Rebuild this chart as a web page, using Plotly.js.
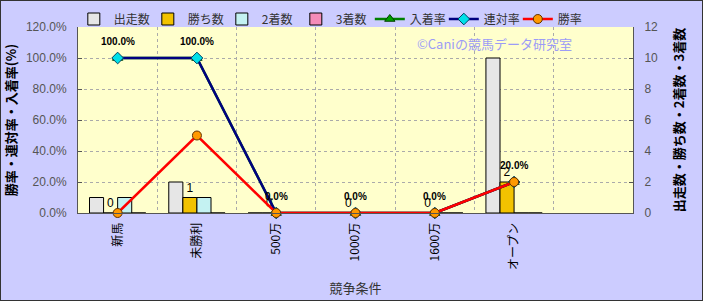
<!DOCTYPE html>
<html><head><meta charset="utf-8">
<script src="https://cdn.plot.ly/plotly-3.0.1.min.js"></script>
<style>
html,body{margin:0;padding:0;background:#CCCCFF;}
#wrap{position:relative;width:703px;height:301px;}
#chart{width:703px;height:301px;}
#frame{position:absolute;left:0;top:0;width:701px;height:299px;border:1px solid #333;pointer-events:none;}
</style></head>
<body><div id="wrap"><div id="chart"></div><div id="frame"></div></div>
<script>
const categories = ['新馬','未勝利','500万','1000万','1600万','オープン'];
const starts  = [1, 2, 0, 0, 0, 10];
const wins    = [0, 1, 0, 0, 0, 2];
const seconds = [1, 1, 0, 0, 0, 0];
const thirds  = [0, 0, 0, 0, 0, 0];
const placeRate  = [1, 1, 0, 0, 0, 0.2];
const rentaiRate = [1, 1, 0, 0, 0, 0.2];
const winRate    = [0, 0.5, 0, 0, 0, 0.2];
const rentaiLabels = rentaiRate.map(v => (v*100).toFixed(1) + '%');

const FONT = 'Liberation Sans, Arial, Noto Sans CJK JP, sans-serif';
const JFONT = 'Noto Sans CJK JP, sans-serif';

const barLine = {color:'#000', width:1};
const traces = [
  {type:'bar', name:'出走数', x:categories, y:starts, yaxis:'y',
   marker:{color:'#E6E6E6', line:barLine}},
  {type:'bar', name:'勝ち数', x:categories, y:wins, yaxis:'y',
   marker:{color:'#F2C200', line:barLine},
   text:wins.map(String), textposition:'outside', cliponaxis:false,
   textfont:{family:FONT, size:12, color:'#000'}},
  {type:'bar', name:'2着数', x:categories, y:seconds, yaxis:'y',
   marker:{color:'#C4F2F2', line:barLine}},
  {type:'bar', name:'3着数', x:categories, y:thirds, yaxis:'y',
   marker:{color:'#F58CB8', line:barLine}},
  {type:'scatter', mode:'lines+markers', name:'入着率', x:categories, y:placeRate, yaxis:'y2',
   line:{color:'#008000', width:2.5},
   marker:{symbol:'triangle-up', size:9, color:'#00A000', line:{color:'#004000', width:1}}, cliponaxis:false},
  {type:'scatter', mode:'lines+markers', name:'連対率', x:categories, y:rentaiRate, yaxis:'y2',
   line:{color:'#000080', width:2.5},
   marker:{symbol:'diamond', size:9, color:'#00E0E8', line:{color:'#004060', width:1}}, cliponaxis:false},
  {type:'scatter', mode:'lines+markers', name:'勝率', x:categories, y:winRate, yaxis:'y2',
   line:{color:'#FF0000', width:2.5},
   marker:{symbol:'circle', size:9, color:'#FF9900', line:{color:'#603000', width:1}}, cliponaxis:false}
];

const annotations = categories.map((c,i) => ({
  x:c, y:rentaiRate[i], xref:'x', yref:'y2', yshift:17, showarrow:false,
  text:rentaiLabels[i], font:{family:FONT, size:10, color:'#000', weight:'bold'}
}));
annotations.push({
  x:0.75, y:0.91, xref:'paper', yref:'paper', xanchor:'center', yanchor:'middle', showarrow:false,
  text:'©Caniの競馬データ研究室', font:{family:JFONT, size:13, color:'#9C9CF6'}
});

const layout = {
  width:703, height:301,
  paper_bgcolor:'#CCCCFF', plot_bgcolor:'#FFFFCC',
  margin:{l:78, r:70, t:27, b:88, autoexpand:false},
  barmode:'group', bargap:0.29, bargroupgap:0,
  font:{family:JFONT, size:12, color:'#333'},
  showlegend:true,
  legend:{orientation:'h', xref:'container', yref:'container', x:0.105, y:0.985, xanchor:'left', yanchor:'top',
    bgcolor:'rgba(0,0,0,0)', font:{family:JFONT, size:12, color:'#333'},
    entrywidth:29, traceorder:'normal', itemwidth:30},
  xaxis:{type:'category', range:[-0.5, 6.5], tickson:'boundaries',
    showgrid:true, gridcolor:'#AAA', griddash:'dot', gridwidth:1,
    showline:true, linecolor:'#555', linewidth:1, ticks:'', ticklabelstandoff:4,
    tickangle:-90, tickfont:{family:JFONT, size:12, color:'#000'},
    title:{text:'競争条件', font:{family:JFONT, size:13, color:'#333'}, standoff:14},
    fixedrange:true},
  yaxis:{side:'right', range:[0,12], dtick:2, showgrid:true, gridcolor:'#AAA', griddash:'dot',
    showline:true, linecolor:'#555', ticks:'inside', ticklen:4, tickcolor:'#555',
    ticklabelstandoff:8,
    tickfont:{family:FONT, size:12, color:'#555'}, zeroline:false,
    title:{text:'出走数・勝ち数・2着数・3着数', font:{family:JFONT, size:13, color:'#000', weight:'bold'}, standoff:17}},
  yaxis2:{overlaying:'y', side:'left', range:[0,1.2], dtick:0.2, tickformat:'.1%', showgrid:false,
    showline:true, linecolor:'#555', ticks:'inside', ticklen:4, tickcolor:'#555', zeroline:false,
    ticklabelstandoff:8,
    tickfont:{family:FONT, size:12, color:'#555'},
    title:{text:'勝率・連対率・入着率(%)', font:{family:JFONT, size:13, color:'#000', weight:'bold'}, standoff:6}},
  annotations:annotations
};
Plotly.newPlot('chart', traces, layout, {displayModeBar:false, staticPlot:true});
</script></body></html>
